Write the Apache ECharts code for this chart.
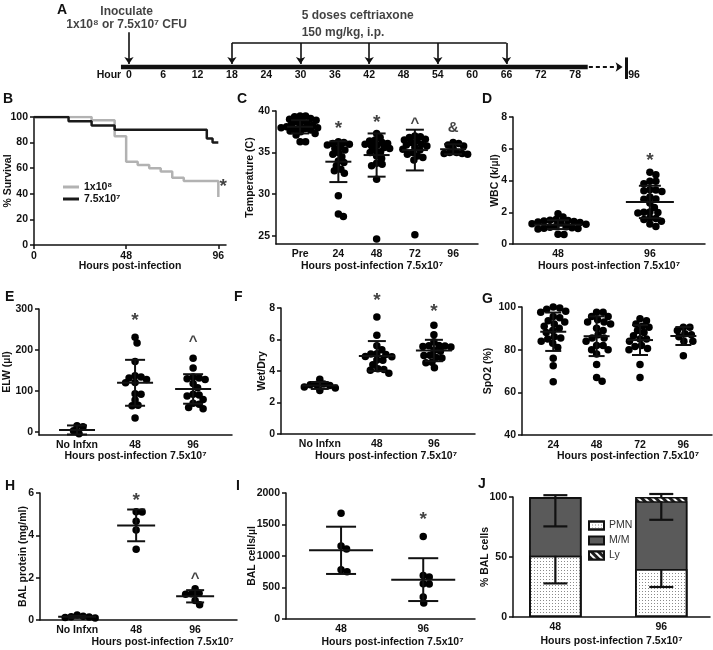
<!DOCTYPE html>
<html><head><meta charset="utf-8">
<script src="https://cdn.jsdelivr.net/npm/echarts@6/dist/echarts.min.js"></script>
<style>html,body{margin:0;padding:0;background:#fff}#c{width:713px;height:650px}</style>
</head><body><div id="c"></div>
<script>
// ---------- DATA ----------
// Panel A timeline
const timelineTicks = [0, 6, 12, 18, 24, 30, 36, 42, 48, 54, 60, 66, 72, 78];
const timelineEndHour = 96;
const inoculateHour = 0;
const doseHours = [18, 30, 42, 54, 66];
// Panel B survival
const survHours1e8 = [0, 30, 42, 48, 54, 60, 66, 72, 78, 96];
const surv1e8 = [100, 97.5, 85, 65, 62.5, 60, 57.5, 52.5, 50, 37.5];
const survHours75e7 = [0, 18, 30, 42, 90, 93, 96];
const surv75e7 = [100, 96.7, 93.3, 90, 83.3, 80, 80];
const survTicksX = [0, 48, 96];
// Panel C temperature
const tempCats = ['Pre', '24', '48', '72', '96'];
const tempPre = [39.4, 39.4, 39.3, 39.1, 39.0, 38.9, 38.8, 38.7, 38.5, 38.4, 38.3, 38.2, 38.1, 38.0, 38.0, 37.9, 37.8, 37.7, 37.6, 37.5, 37.3, 37.1, 36.3, 36.3];
const temp24 = [36.3, 36.2, 36.1, 36.0, 35.9, 35.7, 35.5, 35.3, 35.0, 34.8, 34.5, 34.0, 33.8, 33.4, 33.0, 32.8, 32.5, 29.8, 27.6, 27.3];
const temp48 = [37.3, 36.8, 36.5, 36.4, 36.2, 36.1, 36.0, 35.9, 35.8, 35.6, 35.5, 35.3, 35.1, 35.0, 34.6, 34.3, 33.7, 33.6, 33.4, 31.8, 24.6];
const temp72 = [37.0, 36.9, 36.8, 36.6, 36.5, 36.4, 36.2, 36.0, 35.9, 35.8, 35.6, 35.4, 35.3, 35.0, 34.8, 34.6, 34.4, 34.1, 25.1];
const temp96 = [36.2, 36.1, 35.9, 35.8, 35.5, 35.0, 35.0, 34.9, 34.9, 34.8];
const tempMean = [38.1, 33.9, 34.7, 35.3, 35.4];
const tempSD = [0.8, 2.45, 2.6, 2.45, 0.6];
const tempTicks = [25, 30, 35, 40];
// Panel D WBC
const wbcCats = ['48', '96'];
const wbc48 = [1.91, 1.70, 1.55, 1.50, 1.48, 1.45, 1.42, 1.38, 1.35, 1.32, 1.28, 1.25, 1.10, 1.08, 1.05, 1.02, 1.00, 0.98, 0.95, 0.62, 0.60];
const wbc96 = [4.52, 4.37, 3.95, 3.95, 3.80, 3.42, 3.40, 3.35, 3.30, 2.96, 2.84, 2.82, 2.58, 2.30, 2.02, 2.00, 1.98, 1.95, 1.64, 1.60, 1.55, 1.43, 1.26, 1.11];
const wbcMean = [1.22, 2.65];
const wbcSD = [0.28, 1.02];
// Panel E ELW
const elwCats = ['No Infxn', '48', '96'];
const elwNo = [15, 13, 3, -4];
const elw48 = [231, 217, 172, 137, 134, 132, 128, 121, 120, 93, 92, 78, 65, 64, 34];
const elw96 = [180, 156, 134, 132, 130, 128, 118, 108, 92, 90, 88, 79, 70, 68, 60, 57];
const elwMean = [5, 120, 105];
const elwSD = [11, 56, 36];
const elwTicks = [0, 100, 200, 300];
// Panel F wet/dry
const wdCats = ['No Infxn', '48', '96'];
const wdNo = [3.47, 3.18, 3.15, 3.12, 3.08, 2.98, 2.92, 2.76];
const wd48 = [7.43, 6.27, 5.6, 5.35, 5.1, 5.08, 5.05, 4.92, 4.9, 4.7, 4.68, 4.4, 4.15, 4.1, 4.05, 3.85];
const wd96 = [6.9, 6.3, 5.85, 5.62, 5.6, 5.58, 5.55, 5.52, 5.3, 5.25, 5.0, 4.98, 4.85, 4.82, 4.55, 4.52, 4.2];
const wdMean = [3.08, 4.95, 5.3];
const wdSD = [0.22, 0.95, 0.68];
// Panel G SpO2
const spoCats = ['24', '48', '72', '96'];
const spo24 = [100, 99.5, 99, 98, 97.5, 95.5, 95, 93.5, 93, 92, 91, 90, 89, 88, 86, 85.5, 85, 84, 83, 81, 76, 72.5, 65];
const spo48 = [97.5, 97.5, 95.5, 95.5, 94, 93, 93, 92, 90, 89, 87, 85.5, 85.5, 84, 82, 82, 80, 80, 78, 73, 67, 65.2];
const spo72 = [94.5, 93.5, 92, 91, 90.5, 89, 88, 86.5, 85, 85, 84, 82, 81.5, 80.5, 80, 73, 67];
const spo96 = [90.5, 90.5, 89, 87.5, 87, 86, 84, 84, 77.2];
const spoMean = [88.4, 86.3, 84.5, 86.4];
const spoSD = [9.0, 9.3, 7.0, 4.2];
// Panel H BAL protein
const protCats = ['No Infxn', '48', '96'];
const protNo = [0.24, 0.18, 0.15, 0.14, 0.12, 0.10];
const prot48 = [5.12, 5.10, 4.66, 4.25, 3.34];
const prot96 = [1.48, 1.26, 1.24, 1.22, 0.92, 0.72];
const protMean = [0.15, 4.47, 1.12];
const protSD = [0.05, 0.75, 0.29];
// Panel I BAL cells
const cellCats = ['48', '96'];
const cell48 = [1680, 1160, 1110, 780, 750];
const cell96 = [1310, 690, 665, 560, 555, 350, 255];
const cellMean = [1090, 625];
const cellSD = [375, 340];
// Panel J % BAL cells
const diffCats = ['48', '96'];
const pctPMN = [51, 40];
const pctMM = [48.5, 56.5];
const pctLy = [0.5, 3.5];
const sdPMN = [23, 15];
const sdMM = [24, 15.5];
const sdLy = [1.5, 2.5];

// ---------- LAYOUT ----------
const FONT = 'Liberation Sans, Arial, sans-serif';
const INK = '#111';
const G = {
  A: {left: 83.2, top: 7, width: 594.9, height: 60, xmin: -8, xmax: 96, ymin: 0, ymax: 2.5},
  B: {left: 34, top: 117, width: 192, height: 128, xmin: 0, xmax: 100, ymin: 0, ymax: 100},
  C: {left: 276, top: 111, width: 202, height: 133, xmin: -0.63, xmax: 4.65, ymin: 24, ymax: 40},
  D: {left: 513, top: 117, width: 192, height: 127, xmin: -0.49, xmax: 1.6, ymin: 0, ymax: 8},
  E: {left: 39, top: 309, width: 193, height: 126, xmin: -0.655, xmax: 2.67, ymin: -7.3, ymax: 300},
  F: {left: 281, top: 308, width: 194, height: 126, xmin: -0.68, xmax: 2.72, ymin: 0, ymax: 8},
  G: {left: 522, top: 307, width: 190, height: 128, xmin: -0.72, xmax: 3.66, ymin: 40, ymax: 100},
  H: {left: 40, top: 493, width: 197, height: 127, xmin: -0.63, xmax: 2.71, ymin: 0, ymax: 6},
  I: {left: 286, top: 493, width: 189, height: 126, xmin: -0.67, xmax: 1.63, ymin: 0, ymax: 2000},
  J: {left: 513, top: 497, width: 197, height: 120, xmin: -0.40, xmax: 1.46, ymin: 0, ymax: 100}
};
const keys = ['A', 'B', 'C', 'D', 'E', 'F', 'G', 'H', 'I', 'J'];
const gi = k => keys.indexOf(k);

const grids = keys.map(k => ({left: G[k].left, top: G[k].top, width: G[k].width, height: G[k].height, containLabel: false, outerBoundsMode: 'none'}));

const lblStyle = {color: INK, fontFamily: FONT, fontWeight: 'bold', fontSize: 10.5};
const lineSt = {color: INK, width: 1.5};

function yAxisOf(k, ticks, name, gap) {
  const g = G[k];
  return {
    gridIndex: gi(k), type: 'value', min: g.ymin, max: g.ymax,
    axisLine: {show: true, onZero: false, lineStyle: lineSt},
    axisTick: {show: true, length: 4, lineStyle: lineSt, customValues: ticks},
    axisLabel: Object.assign({customValues: ticks, margin: 6, formatter: v => String(v)}, lblStyle),
    splitLine: {show: false},
    name: name, nameLocation: 'middle', nameGap: gap, nameMoveOverlap: false,
    nameTextStyle: Object.assign({}, lblStyle, {fontSize: 10.5})
  };
}
function xCatAxisOf(k, cats, name, gap, pad) {
  const g = G[k];
  const vals = cats.map((c, i) => i);
  return {
    gridIndex: gi(k), type: 'value', min: g.xmin, max: g.xmax,
    axisLine: {show: true, onZero: false, lineStyle: lineSt},
    axisTick: {show: false},
    axisLabel: Object.assign({customValues: vals, margin: 5, formatter: v => cats[Math.round(v)]}, lblStyle),
    splitLine: {show: false},
    name: name, nameLocation: 'middle', nameGap: gap, nameMoveOverlap: false,
    nameTextStyle: Object.assign({}, lblStyle, {padding: pad || 0})
  };
}
function range(a, b, s) { const r = []; for (let v = a; v <= b + 1e-9; v += s) r.push(v); return r; }

// beeswarm layout (horizontal spread only, values untouched)
function swarm(vals, center, k, d) {
  const g = G[k];
  const pxX = g.width / (g.xmax - g.xmin), pxY = g.height / (g.ymax - g.ymin);
  const idx = vals.map((v, i) => i).sort((a, b) => vals[b] - vals[a]);
  const placed = [], out = [];
  idx.forEach(i => {
    const yp = vals[i] * pxY;
    let off = 0;
    for (let s = 0; s < 400; s++) {
      const o = (s % 2 === 1 ? 1 : -1) * Math.ceil(s / 2) * 0.5;
      if (placed.every(p => (p.x - o) * (p.x - o) + (p.y - yp) * (p.y - yp) >= d * d)) { off = o; break; }
    }
    placed.push({x: off, y: yp});
    out.push([center + off / pxX, vals[i]]);
  });
  return out;
}
function dots(k, groups, d) {
  let data = [];
  groups.forEach((vals, i) => { data = data.concat(swarm(vals, i, k, d || 6)); });
  return {type: 'scatter', xAxisIndex: gi(k), yAxisIndex: gi(k), symbolSize: 7.5, clip: false, silent: true,
    itemStyle: {color: '#000', opacity: 1}, data: data, z: 3};
}
function errBars(k, means, sds, halfMean, halfCap) {
  return {
    type: 'custom', xAxisIndex: gi(k), yAxisIndex: gi(k), silent: true, z: 5, clip: false,
    data: means.map((m, i) => [i, m, sds[i]]),
    renderItem: function (params, api) {
      const x = api.value(0), m = api.value(1), sd = api.value(2);
      const c = api.coord([x, m]), t = api.coord([x, m + sd]), b = api.coord([x, m - sd]);
      const st = {stroke: INK, lineWidth: 2};
      return {type: 'group', children: [
        {type: 'line', shape: {x1: c[0] - halfMean, y1: c[1], x2: c[0] + halfMean, y2: c[1]}, style: st},
        {type: 'line', shape: {x1: t[0], y1: t[1], x2: b[0], y2: b[1]}, style: st},
        {type: 'line', shape: {x1: t[0] - halfCap, y1: t[1], x2: t[0] + halfCap, y2: t[1]}, style: st},
        {type: 'line', shape: {x1: b[0] - halfCap, y1: b[1], x2: b[0] + halfCap, y2: b[1]}, style: st}
      ]};
    }
  };
}
function marks(k, items) {
  return {
    type: 'scatter', xAxisIndex: gi(k), yAxisIndex: gi(k), symbolSize: 1, clip: false, silent: true,
    itemStyle: {color: 'rgba(0,0,0,0)'}, z: 6,
    data: items.map(a => ({value: [a[0], a[1]], label: {show: true, formatter: a[2], position: 'inside',
      fontFamily: FONT, fontWeight: 'bold', color: INK, fontSize: a[2] === '*' ? 19 : 15,
      offset: [0, (a[2] === '*' || a[2] === '^') ? 4 : 0]}}))
  };
}

// ---------- AXES ----------
const xAxes = [], yAxes = [];
// A
const breakPos = 88.3; // displayed position of the post-break "96" tick
xAxes.push({gridIndex: 0, type: 'value', min: G.A.xmin, max: G.A.xmax,
  axisLine: {show: false}, axisTick: {show: false}, splitLine: {show: false},
  axisLabel: Object.assign({customValues: [-3.5].concat(timelineTicks, [breakPos]), margin: 3,
    formatter: v => v < 0 ? 'Hour' : (v > 80 ? String(timelineEndHour) : String(v))}, lblStyle)});
yAxes.push({gridIndex: 0, type: 'value', min: G.A.ymin, max: G.A.ymax, show: false});
// B
xAxes.push({gridIndex: 1, type: 'value', min: G.B.xmin, max: G.B.xmax,
  axisLine: {show: true, onZero: false, lineStyle: lineSt},
  axisTick: {show: true, length: 4, lineStyle: lineSt, customValues: survTicksX},
  axisLabel: Object.assign({customValues: survTicksX, margin: 6}, lblStyle),
  splitLine: {show: false}, name: 'Hours post-infection', nameLocation: 'middle', nameGap: 16,
  nameMoveOverlap: false, nameTextStyle: lblStyle});
yAxes.push(yAxisOf('B', range(0, 100, 20), '% Survival', 20));
// C
xAxes.push(xCatAxisOf('C', tempCats, 'Hours post-infection 7.5x10⁷', 17, [0, 10, 0, 0]));
yAxes.push(yAxisOf('C', tempTicks, 'Temperature (C)', 20));
// D
xAxes.push(xCatAxisOf('D', wbcCats, 'Hours post-infection 7.5x10⁷', 17));
yAxes.push(yAxisOf('D', range(0, 8, 2), 'WBC (k/µl)', 12));
// E
xAxes.push(xCatAxisOf('E', elwCats, 'Hours post-infection 7.5x10⁷', 16));
yAxes.push(yAxisOf('E', elwTicks, 'ELW (µl)', 26));
// F
xAxes.push(xCatAxisOf('F', wdCats, 'Hours post-infection 7.5x10⁷', 17, [0, 0, 0, 16]));
yAxes.push(yAxisOf('F', range(0, 8, 2), 'Wet/Dry', 13));
// G
xAxes.push(xCatAxisOf('G', spoCats, 'Hours post-infection 7.5x10⁷', 16, [0, 0, 0, 22]));
yAxes.push(yAxisOf('G', range(40, 100, 20), 'SpO2 (%)', 28));
// H
xAxes.push(xCatAxisOf('H', protCats, 'Hours post-infection 7.5x10⁷', 17, [0, 0, 0, 48]));
yAxes.push(yAxisOf('H', range(0, 6, 2), 'BAL protein (mg/ml)', 11));
// I
xAxes.push(xCatAxisOf('I', cellCats, 'Hours post-infection 7.5x10⁷', 18, [0, 0, 0, 24]));
yAxes.push(yAxisOf('I', range(0, 2000, 500), 'BAL cells/µl', 28));
// J
xAxes.push(xCatAxisOf('J', diffCats, 'Hours post-infection 7.5x10⁷', 19));
yAxes.push(yAxisOf('J', range(0, 100, 50), '% BAL cells', 22));

// ---------- SERIES ----------
const series = [];
// A: timeline
const arrowLine = {color: INK, width: 1.6};
series.push({type: 'line', xAxisIndex: 0, yAxisIndex: 0, symbol: 'none', silent: true, clip: false,
  lineStyle: {color: INK, width: 4.5}, data: [[-1.4, 0], [80.2, 0]]});
series.push({type: 'lines', coordinateSystem: 'cartesian2d', xAxisIndex: 0, yAxisIndex: 0, silent: true, clip: false,
  symbol: ['none', 'arrow'], symbolSize: 7, lineStyle: {color: INK, width: 1.8, type: [4, 3], opacity: 1},
  data: [{coords: [[80.4, 0], [86.3, 0]]}]});
series.push({type: 'lines', coordinateSystem: 'cartesian2d', xAxisIndex: 0, yAxisIndex: 0, silent: true, clip: false,
  symbol: 'none', lineStyle: {color: INK, width: 3, opacity: 1},
  data: [{coords: [[86.9, 0.4], [86.9, -0.5]]}]});
series.push({type: 'line', xAxisIndex: 0, yAxisIndex: 0, symbol: 'none', silent: true, clip: false,
  lineStyle: arrowLine, data: [[doseHours[0], 1], [doseHours[doseHours.length - 1], 1]]});
series.push({type: 'lines', coordinateSystem: 'cartesian2d', xAxisIndex: 0, yAxisIndex: 0, silent: true, clip: false,
  symbol: ['none', 'arrow'], symbolSize: 7, lineStyle: Object.assign({opacity: 1}, arrowLine),
  data: doseHours.map(h => ({coords: [[h, 1], [h, 0.12]]})).concat([{coords: [[inoculateHour, 1.45], [inoculateHour, 0.12]]}])});
series.push({type: 'scatter', xAxisIndex: 0, yAxisIndex: 0, symbolSize: 1, clip: false, silent: true,
  itemStyle: {color: 'rgba(0,0,0,0)'},
  data: [
    {value: [inoculateHour - 0.4, 2.29], label: {show: true, position: 'inside', formatter: 'Inoculate'}},
    {value: [inoculateHour - 0.4, 1.75], label: {show: true, position: 'inside', formatter: '1x10⁸ or 7.5x10⁷ CFU'}},
    {value: [30.1, 2.12], label: {show: true, position: 'right', distance: 0, formatter: '5 doses ceftriaxone'}},
    {value: [30.1, 1.42], label: {show: true, position: 'right', distance: 0, formatter: '150 mg/kg, i.p.'}}
  ],
  label: Object.assign({}, lblStyle, {fontSize: 12})});

// B: survival
series.push({type: 'line', name: '1x10⁸', xAxisIndex: 1, yAxisIndex: 1, step: 'end', symbol: 'none', silent: true,
  lineStyle: {color: '#b2b2b2', width: 2.5}, itemStyle: {color: '#b2b2b2'},
  data: survHours1e8.map((h, i) => [h, surv1e8[i]])});
series.push({type: 'line', name: '7.5x10⁷', xAxisIndex: 1, yAxisIndex: 1, step: 'end', symbol: 'none', silent: true,
  lineStyle: {color: '#1a1a1a', width: 2.5}, itemStyle: {color: '#1a1a1a'},
  data: survHours75e7.map((h, i) => [h, surv75e7[i]])});
series.push(marks('B', [[98.6, 49, '*']]));

// C
series.push(dots('C', [tempPre, temp24, temp48, temp72, temp96], 5.3));
series.push(errBars('C', tempMean, tempSD, 13, 9));
series.push(marks('C', [[1, 38.3, '*'], [2, 39.1, '*'], [3, 38.9, '^'], [4, 38.0, '&']]));
// D
series.push(dots('D', [wbc48, wbc96]));
series.push(errBars('D', wbcMean, wbcSD, 24, 11));
series.push(marks('D', [[1, 5.48, '*']]));
// E
series.push(dots('E', [elwNo, elw48, elw96]));
series.push(errBars('E', elwMean, elwSD, 18, 10));
series.push(marks('E', [[1, 280, '*'], [2, 229, '^']]));
// F
series.push(dots('F', [wdNo, wd48, wd96]));
series.push(errBars('F', wdMean, wdSD, 18, 9));
series.push(marks('F', [[1, 8.7, '*'], [2, 8.0, '*']]));
// G
series.push(dots('G', [spo24, spo48, spo72, spo96], 6.5));
series.push(errBars('G', spoMean, spoSD, 13, 8));
// H
series.push(dots('H', [protNo, prot48, prot96]));
series.push(errBars('H', protMean, protSD, 19, 9));
series.push(marks('H', [[1, 5.81, '*'], [2, 2.13, '^']]));
// I
series.push(dots('I', [cell48, cell96]));
series.push(errBars('I', cellMean, cellSD, 32, 15));
series.push(marks('I', [[1, 1635, '*']]));
// J stacked bars (drawn as overlapping cumulative bars: total, PMN+M/M, PMN)
const cumMM = pctPMN.map((p, i) => p + pctMM[i]);
const cumLy = cumMM.map((c, i) => c + pctLy[i]);
const barBase = {type: 'bar', xAxisIndex: gi('J'), yAxisIndex: gi('J'), barWidth: 52, barGap: '-100%', silent: true};
series.push(Object.assign({}, barBase, {name: 'Ly', data: cumLy.map((v, i) => [i, v]),
  itemStyle: {color: '#1e1e1e', borderColor: INK, borderWidth: 1.5,
    decal: {symbol: 'rect', symbolSize: 1, color: '#ffffff', dashArrayX: [1, 0], dashArrayY: [2, 3], rotation: Math.PI / 4}}}));
series.push(Object.assign({}, barBase, {name: 'M/M', data: cumMM.map((v, i) => [i, v]),
  itemStyle: {color: '#5a5a5a', borderColor: INK, borderWidth: 1.5}}));
series.push(Object.assign({}, barBase, {name: 'PMN', data: pctPMN.map((v, i) => [i, v]),
  itemStyle: {color: '#ffffff', borderColor: INK, borderWidth: 1.5,
    decal: {symbol: 'rect', symbolSize: 1, color: '#8a8a8a', dashArrayX: [1, 2], dashArrayY: [1, 2], rotation: 0}}}));
const jErr = [];
pctPMN.forEach((p, i) => {
  jErr.push([i, p, p - sdPMN[i]]);
  jErr.push([i, cumMM[i], cumMM[i] - sdMM[i]]);
  jErr.push([i, cumLy[i], cumLy[i] + sdLy[i]]);
});
series.push({type: 'custom', xAxisIndex: gi('J'), yAxisIndex: gi('J'), silent: true, z: 5, clip: false,
  data: jErr,
  renderItem: function (params, api) {
    const a = api.coord([api.value(0), api.value(1)]), b = api.coord([api.value(0), api.value(2)]);
    const st = {stroke: INK, lineWidth: 2.2};
    return {type: 'group', children: [
      {type: 'line', shape: {x1: a[0], y1: a[1], x2: b[0], y2: b[1]}, style: st},
      {type: 'line', shape: {x1: b[0] - 12, y1: b[1], x2: b[0] + 12, y2: b[1]}, style: st}
    ]};
  }});

// ---------- TITLES & LEGENDS ----------
const letters = [['A', 57, 3], ['B', 3, 92], ['C', 237, 92], ['D', 482, 92], ['E', 5, 290], ['F', 234, 290],
  ['G', 482, 292], ['H', 5, 479], ['I', 236, 479], ['J', 478, 477]];
const titles = letters.map(l => ({text: l[0], left: l[1], top: l[2], padding: 0,
  textStyle: {fontFamily: FONT, fontWeight: 'bold', fontSize: 14, color: INK}}));

const option = {
  backgroundColor: '#fff',
  animation: false,
  title: titles,
  grid: grids,
  xAxis: xAxes,
  yAxis: yAxes,
  legend: [
    {data: ['1x10⁸', '7.5x10⁷'], orient: 'vertical', left: 63, top: 181, icon: 'rect', itemWidth: 16, itemHeight: 3,
      itemGap: 0, padding: 0, selectedMode: false,
      textStyle: {fontFamily: FONT, fontWeight: 'bold', fontSize: 10.5, color: INK, lineHeight: 12}},
    {data: ['PMN', 'M/M', 'Ly'], orient: 'vertical', left: 588, top: 519, icon: 'rect', itemWidth: 15, itemHeight: 8,
      itemGap: 2, padding: 0, selectedMode: false,
      textStyle: {fontFamily: FONT, fontSize: 10.5, color: '#333', lineHeight: 13}}
  ],
  series: series
};
const chart = echarts.init(document.getElementById('c'), null, {renderer: 'canvas', width: 713, height: 650});
chart.setOption(option);
</script></body></html>
